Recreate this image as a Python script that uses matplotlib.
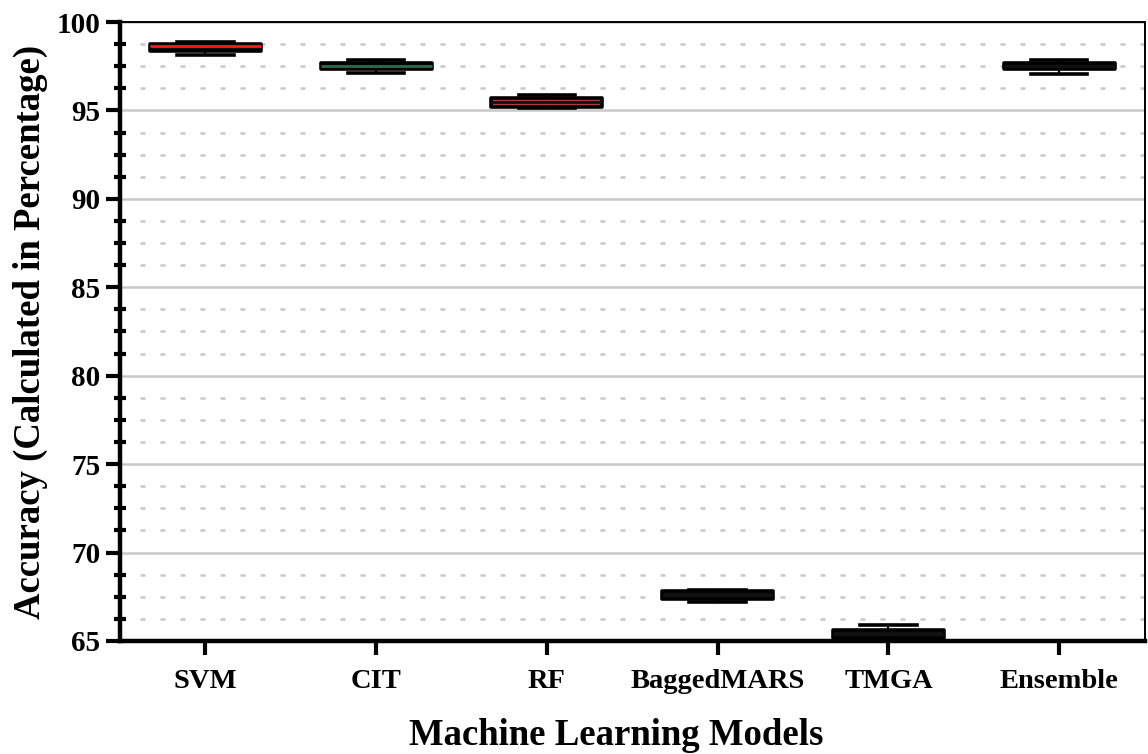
import matplotlib
matplotlib.use("Agg")
import matplotlib.pyplot as plt
from matplotlib.ticker import MultipleLocator

models = ["SVM", "CIT", "RF", "BaggedMARS", "TMGA", "Ensemble"]
whislo = [98.15, 97.12, 95.14, 67.18, 65.06, 97.08]
q1 = [98.38, 97.32, 95.22, 67.38, 65.14, 97.32]
med = [98.65, 97.52, 95.45, 67.60, 65.40, 97.52]
q3 = [98.78, 97.68, 95.68, 67.80, 65.60, 97.68]
whishi = [98.88, 97.88, 95.88, 67.90, 65.92, 97.88]
face_colors = ["#111111", "#111111", "#b03a3a", "#111111", "#111111", "#111111"]
median_colors = ["#ff1a1a", "#2e6b4a", "#111111", "#111111", "#111111", "#111111"]

plt.rcParams['font.family'] = ['Liberation Serif', 'DejaVu Serif']
plt.rcParams['font.weight'] = 'bold'

fig = plt.figure(figsize=(11.48, 7.54), dpi=100)
ax = fig.add_axes([0.1045, 0.1499, 0.8925, 0.8209])

stats = []
for i, m in enumerate(models):
    stats.append(dict(label=m, whislo=whislo[i], q1=q1[i], med=med[i], q3=q3[i], whishi=whishi[i], fliers=[]))

positions = list(range(1, len(models) + 1))
bp = ax.bxp(stats, positions=positions, widths=0.65, patch_artist=True, showfliers=False,
            boxprops=dict(linewidth=2.6, edgecolor='black', joinstyle='round'),
            whiskerprops=dict(linewidth=1.6, color='black'),
            capprops=dict(linewidth=2.6, color='black'),
            medianprops=dict(linewidth=2.0), capwidths=0.33, zorder=3)
for patch, fc in zip(bp['boxes'], face_colors):
    patch.set_facecolor(fc)
for line, mc in zip(bp['medians'], median_colors):
    line.set_color(mc)
    line.set_zorder(4)

ax.set_xlim(0.5, 6.5)
ax.set_ylim(65, 100)
ax.yaxis.set_major_locator(MultipleLocator(5))
ax.yaxis.set_minor_locator(MultipleLocator(1.25))
ax.grid(True, which='major', axis='y', color='#c8c8c8', linewidth=1.8, zorder=0)
ax.grid(True, which='minor', axis='y', color='#c8c8c8', linewidth=1.8, linestyle=(0, (2, 6)), zorder=0)
ax.set_axisbelow(True)

for side in ['left', 'bottom']:
    ax.spines[side].set_linewidth(3.2)
for side in ['right', 'top']:
    ax.spines[side].set_linewidth(1.4)

ax.tick_params(axis='y', which='major', direction='out', length=10, width=3, labelsize=21, pad=4)
ax.tick_params(axis='y', which='minor', direction='inout', length=8, width=3)
ax.tick_params(axis='x', which='major', direction='out', length=10, width=3, labelsize=20.5, pad=10)
ax.set_xticks(positions)
ax.set_xticklabels(models, fontweight='bold')
for lbl in ax.get_yticklabels():
    lbl.set_fontweight('bold')

ax.set_ylabel("Accuracy (Calculated in Percentage)", fontsize=26.5, fontweight='bold', labelpad=6)
ax.set_xlabel("Machine Learning Models", fontsize=26.5, fontweight='bold', labelpad=18)
ax.xaxis.set_label_coords(0.484, -0.125)

fig.savefig("out.png", dpi=100)
